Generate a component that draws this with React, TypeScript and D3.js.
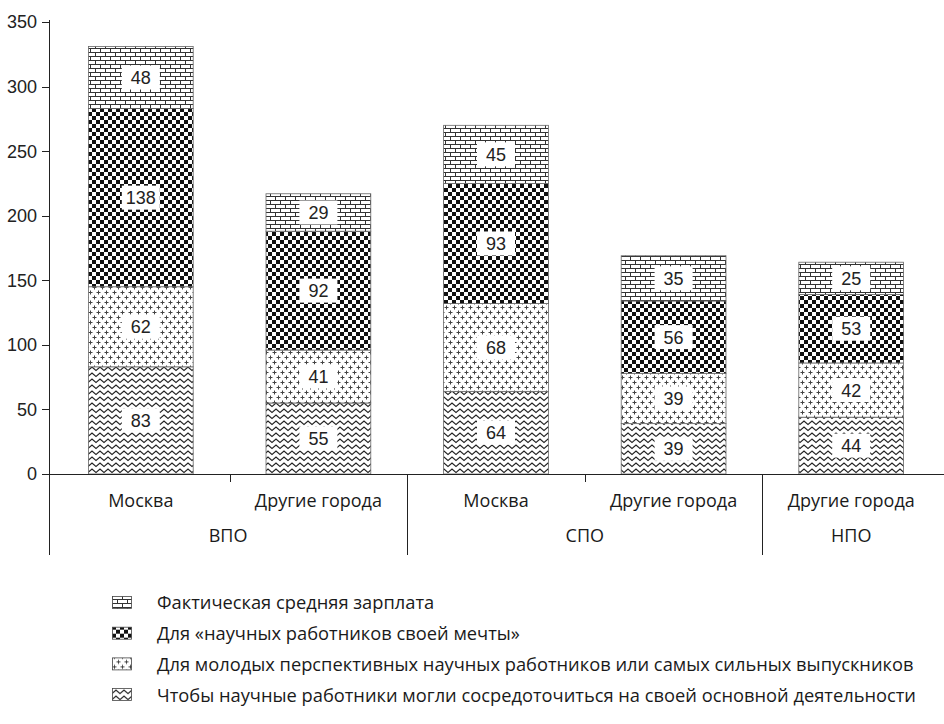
import { useEffect, useRef } from 'react';
import * as d3 from 'd3';

// categories along the x axis, grouped by education level
const categories = ['ВПО|Москва', 'ВПО|Другие', 'СПО|Москва', 'СПО|Другие', 'НПО|Другие'];
const categoryLabels = ['Москва', 'Другие города', 'Москва', 'Другие города', 'Другие города'];
const groups = ['ВПО', 'СПО', 'НПО'];
const groupOf = ['ВПО', 'ВПО', 'СПО', 'СПО', 'НПО'];

// stacked series, bottom to top
const seriesKeys = ['focus', 'young', 'dream', 'actual'];
const focusValues = [83, 55, 64, 39, 44];
const youngValues = [62, 41, 68, 39, 42];
const dreamValues = [138, 92, 93, 56, 53];
const actualValues = [48, 29, 45, 35, 25];

const yTicks = [0, 50, 100, 150, 200, 250, 300, 350];

const legendLabels = [
  { key: 'actual', text: 'Фактическая средняя зарплата' },
  { key: 'dream', text: 'Для «научных работников своей мечты»' },
  { key: 'young', text: 'Для молодых перспективных научных работников или самых сильных выпускников' },
  { key: 'focus', text: 'Чтобы научные работники могли сосредоточиться на своей основной деятельности' },
];

const numFont = '"Liberation Sans Narrow", "Liberation Sans", Arial, sans-serif';
const textFont = '"Open Sans", "Noto Sans", sans-serif';

export default function App() {
  const svgRef = useRef<SVGSVGElement>(null);

  useEffect(() => {
    if (!svgRef.current) return;
    document.body.style.margin = '0';

    const width = 944;
    const height = 724;

    const rows = categories.map((c, i) => ({
      cat: c,
      focus: focusValues[i],
      young: youngValues[i],
      dream: dreamValues[i],
      actual: actualValues[i],
    }));

    const svg = d3.select(svgRef.current);
    svg.selectAll('*').remove();
    svg.attr('width', width).attr('height', height).attr('viewBox', `0 0 ${width} ${height}`);

    // patterns
    const defs = svg.append('defs');

    const brick = defs.append('pattern').attr('id', 'p-actual')
      .attr('patternUnits', 'userSpaceOnUse').attr('width', 10).attr('height', 8);
    brick.append('rect').attr('width', 10).attr('height', 8).attr('fill', '#fff');
    brick.append('path')
      .attr('d', 'M0,0.5H10M0,4.5H10M0.5,0.5V4.5M5.5,4.5V8.5')
      .attr('stroke', '#333').attr('stroke-width', 1).attr('fill', 'none');

    const checker = defs.append('pattern').attr('id', 'p-dream')
      .attr('patternUnits', 'userSpaceOnUse').attr('width', 8).attr('height', 8);
    checker.append('rect').attr('width', 8).attr('height', 8).attr('fill', '#fff');
    checker.append('rect').attr('width', 4).attr('height', 4).attr('fill', '#111');
    checker.append('rect').attr('x', 4).attr('y', 4).attr('width', 4).attr('height', 4).attr('fill', '#111');

    const cross = defs.append('pattern').attr('id', 'p-young')
      .attr('patternUnits', 'userSpaceOnUse').attr('width', 8).attr('height', 10);
    cross.append('rect').attr('width', 8).attr('height', 10).attr('fill', '#fff');
    cross.append('path')
      .attr('d', 'M0.5,2.5H4.5M2.5,0.5V4.5M4.5,7.5H8.5M0,7.5H0.5M6.5,5.5V9.5')
      .attr('stroke', '#444').attr('stroke-width', 1).attr('fill', 'none');

    const zig = defs.append('pattern').attr('id', 'p-focus')
      .attr('patternUnits', 'userSpaceOnUse').attr('width', 8).attr('height', 6);
    zig.append('rect').attr('width', 8).attr('height', 6).attr('fill', '#fff');
    zig.append('path')
      .attr('d', 'M-2,2.5L0,4.5L4,1L8,4.5L10,2.5')
      .attr('stroke', '#222').attr('stroke-width', 1.2).attr('fill', 'none');

    const x = d3.scaleBand<string>().domain(categories).range([52, 940]).padding(0);
    const barW = x.bandwidth() * 0.59;
    const y = d3.scaleLinear().domain([0, 350]).range([474, 22]);

    const stack = d3.stack<any>().keys(seriesKeys);
    const layers = stack(rows);

    const layerG = svg.append('g')
      .selectAll('g')
      .data(layers)
      .enter()
      .append('g')
      .attr('fill', (d) => `url(#p-${d.key})`);

    layerG.selectAll('rect')
      .data((d) => d.map((v) => ({ v, key: d.key })))
      .enter()
      .append('rect')
      .attr('x', (d) => x(d.v.data.cat)! + (x.bandwidth() - barW) / 2)
      .attr('y', (d) => y(d.v[1]))
      .attr('width', barW)
      .attr('height', (d) => y(d.v[0]) - y(d.v[1]))
      .attr('stroke', '#666')
      .attr('stroke-width', 0.8);

    // value labels
    const labelG = svg.append('g');
    layers.forEach((layer) => {
      layer.forEach((v) => {
        const cx = x(v.data.cat)! + x.bandwidth() / 2;
        const cy = (y(v[0]) + y(v[1])) / 2;
        labelG.append('rect')
          .attr('x', cx - 19).attr('y', cy - 12)
          .attr('width', 38).attr('height', 24)
          .attr('fill', '#fff');
        labelG.append('text')
          .attr('x', cx).attr('y', cy)
          .attr('dy', '0.36em')
          .attr('text-anchor', 'middle')
          .style('font-family', numFont)
          .style('font-size', '18px')
          .attr('fill', '#222')
          .text(v[1] - v[0]);
      });
    });

    // axes
    const axisG = svg.append('g').attr('stroke', '#222').attr('stroke-width', 1);
    axisG.append('line').attr('x1', 49.5).attr('x2', 49.5).attr('y1', 20).attr('y2', 555);
    axisG.append('line').attr('x1', 42).attr('x2', 944).attr('y1', y(0) + 0.5).attr('y2', y(0) + 0.5);

    svg.append('g')
      .selectAll('line')
      .data(yTicks)
      .enter()
      .append('line')
      .attr('x1', 42).attr('x2', 49)
      .attr('y1', (d) => Math.round(y(d)) + 0.5)
      .attr('y2', (d) => Math.round(y(d)) + 0.5)
      .attr('stroke', '#222');

    svg.append('g')
      .selectAll('text')
      .data(yTicks)
      .enter()
      .append('text')
      .attr('x', 37)
      .attr('y', (d) => y(d))
      .attr('dy', '0.36em')
      .attr('text-anchor', 'end')
      .style('font-family', numFont)
      .style('font-size', '18px')
      .attr('fill', '#222')
      .text((d) => d);

    // separators between cities and between groups
    categories.forEach((c, i) => {
      if (i === 0) return;
      const bx = Math.round(x(c)!) + 0.5;
      const newGroup = groupOf[i] !== groupOf[i - 1];
      svg.append('line')
        .attr('x1', bx).attr('x2', bx)
        .attr('y1', y(0)).attr('y2', newGroup ? 555 : 482)
        .attr('stroke', '#222');
    });

    // category labels
    svg.append('g')
      .selectAll('text')
      .data(categories)
      .enter()
      .append('text')
      .attr('x', (d) => x(d)! + x.bandwidth() / 2)
      .attr('y', 507)
      .attr('text-anchor', 'middle')
      .style('font-family', textFont)
      .style('font-size', '18px')
      .attr('fill', '#1a1a1a')
      .text((d, i) => categoryLabels[i]);

    // group labels
    groups.forEach((g) => {
      const idx = groupOf.map((v, i) => (v === g ? i : -1)).filter((i) => i >= 0);
      const first = categories[idx[0]];
      const last = categories[idx[idx.length - 1]];
      const left = idx[0] === 0 ? 49 : x(first)!;
      const right = x(last)! + x.bandwidth();
      svg.append('text')
        .attr('x', (left + right) / 2)
        .attr('y', 542)
        .attr('text-anchor', 'middle')
        .style('font-family', textFont)
        .style('font-size', '18px')
        .attr('fill', '#1a1a1a')
        .text(g);
    });

    // legend
    const legend = svg.append('g').attr('transform', 'translate(112,603)');
    legendLabels.forEach((l, i) => {
      const row = legend.append('g').attr('transform', `translate(0,${i * 30.7})`);
      row.append('rect')
        .attr('x', 0.5).attr('y', -6.5)
        .attr('width', 19).attr('height', 12)
        .attr('fill', `url(#p-${l.key})`)
        .attr('stroke', '#444')
        .attr('stroke-width', 0.8);
      row.append('text')
        .attr('x', 45)
        .attr('y', 0)
        .attr('dy', '0.35em')
        .style('font-family', textFont)
        .style('font-size', '18.3px')
        .attr('fill', '#1a1a1a')
        .text(l.text);
    });
  }, []);

  return <svg ref={svgRef} style={{ display: 'block' }} />;
}
